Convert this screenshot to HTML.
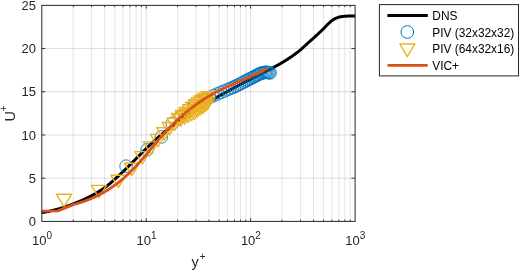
<!DOCTYPE html>
<html><head><meta charset="utf-8"><style>
html,body{margin:0;padding:0;background:#fff;width:520px;height:271px;overflow:hidden}
svg{display:block;will-change:transform}
.gM{stroke:#262626;stroke-opacity:0.15}
.gm{stroke:#262626;stroke-opacity:0.12}
</style></head><body>
<svg width="520" height="271" viewBox="0 0 520 271">
<rect width="520" height="271" fill="#fff"/>
<g stroke-width="1" fill="none"><line x1="73.23" y1="221.4" x2="73.23" y2="5.35" class="gm"/><line x1="91.61" y1="221.4" x2="91.61" y2="5.35" class="gm"/><line x1="104.66" y1="221.4" x2="104.66" y2="5.35" class="gm"/><line x1="114.77" y1="221.4" x2="114.77" y2="5.35" class="gm"/><line x1="123.04" y1="221.4" x2="123.04" y2="5.35" class="gm"/><line x1="130.03" y1="221.4" x2="130.03" y2="5.35" class="gm"/><line x1="136.08" y1="221.4" x2="136.08" y2="5.35" class="gm"/><line x1="141.42" y1="221.4" x2="141.42" y2="5.35" class="gm"/><line x1="146.20" y1="221.4" x2="146.20" y2="5.35" class="gM"/><line x1="177.63" y1="221.4" x2="177.63" y2="5.35" class="gm"/><line x1="196.01" y1="221.4" x2="196.01" y2="5.35" class="gm"/><line x1="209.06" y1="221.4" x2="209.06" y2="5.35" class="gm"/><line x1="219.17" y1="221.4" x2="219.17" y2="5.35" class="gm"/><line x1="227.44" y1="221.4" x2="227.44" y2="5.35" class="gm"/><line x1="234.43" y1="221.4" x2="234.43" y2="5.35" class="gm"/><line x1="240.48" y1="221.4" x2="240.48" y2="5.35" class="gm"/><line x1="245.82" y1="221.4" x2="245.82" y2="5.35" class="gm"/><line x1="250.60" y1="221.4" x2="250.60" y2="5.35" class="gM"/><line x1="282.03" y1="221.4" x2="282.03" y2="5.35" class="gm"/><line x1="300.41" y1="221.4" x2="300.41" y2="5.35" class="gm"/><line x1="313.46" y1="221.4" x2="313.46" y2="5.35" class="gm"/><line x1="323.57" y1="221.4" x2="323.57" y2="5.35" class="gm"/><line x1="331.84" y1="221.4" x2="331.84" y2="5.35" class="gm"/><line x1="338.83" y1="221.4" x2="338.83" y2="5.35" class="gm"/><line x1="344.88" y1="221.4" x2="344.88" y2="5.35" class="gm"/><line x1="350.22" y1="221.4" x2="350.22" y2="5.35" class="gm"/><line x1="41.8" y1="178.19" x2="355.1" y2="178.19" class="gM"/><line x1="41.8" y1="134.98" x2="355.1" y2="134.98" class="gM"/><line x1="41.8" y1="91.77" x2="355.1" y2="91.77" class="gM"/><line x1="41.8" y1="48.56" x2="355.1" y2="48.56" class="gM"/></g>
<g stroke="#262626" stroke-width="0.9"><line x1="73.23" y1="221.4" x2="73.23" y2="219.6"/><line x1="73.23" y1="5.35" x2="73.23" y2="7.1499999999999995"/><line x1="91.61" y1="221.4" x2="91.61" y2="219.6"/><line x1="91.61" y1="5.35" x2="91.61" y2="7.1499999999999995"/><line x1="104.66" y1="221.4" x2="104.66" y2="219.6"/><line x1="104.66" y1="5.35" x2="104.66" y2="7.1499999999999995"/><line x1="114.77" y1="221.4" x2="114.77" y2="219.6"/><line x1="114.77" y1="5.35" x2="114.77" y2="7.1499999999999995"/><line x1="123.04" y1="221.4" x2="123.04" y2="219.6"/><line x1="123.04" y1="5.35" x2="123.04" y2="7.1499999999999995"/><line x1="130.03" y1="221.4" x2="130.03" y2="219.6"/><line x1="130.03" y1="5.35" x2="130.03" y2="7.1499999999999995"/><line x1="136.08" y1="221.4" x2="136.08" y2="219.6"/><line x1="136.08" y1="5.35" x2="136.08" y2="7.1499999999999995"/><line x1="141.42" y1="221.4" x2="141.42" y2="219.6"/><line x1="141.42" y1="5.35" x2="141.42" y2="7.1499999999999995"/><line x1="146.20" y1="221.4" x2="146.20" y2="218.20000000000002"/><line x1="146.20" y1="5.35" x2="146.20" y2="8.55"/><line x1="177.63" y1="221.4" x2="177.63" y2="219.6"/><line x1="177.63" y1="5.35" x2="177.63" y2="7.1499999999999995"/><line x1="196.01" y1="221.4" x2="196.01" y2="219.6"/><line x1="196.01" y1="5.35" x2="196.01" y2="7.1499999999999995"/><line x1="209.06" y1="221.4" x2="209.06" y2="219.6"/><line x1="209.06" y1="5.35" x2="209.06" y2="7.1499999999999995"/><line x1="219.17" y1="221.4" x2="219.17" y2="219.6"/><line x1="219.17" y1="5.35" x2="219.17" y2="7.1499999999999995"/><line x1="227.44" y1="221.4" x2="227.44" y2="219.6"/><line x1="227.44" y1="5.35" x2="227.44" y2="7.1499999999999995"/><line x1="234.43" y1="221.4" x2="234.43" y2="219.6"/><line x1="234.43" y1="5.35" x2="234.43" y2="7.1499999999999995"/><line x1="240.48" y1="221.4" x2="240.48" y2="219.6"/><line x1="240.48" y1="5.35" x2="240.48" y2="7.1499999999999995"/><line x1="245.82" y1="221.4" x2="245.82" y2="219.6"/><line x1="245.82" y1="5.35" x2="245.82" y2="7.1499999999999995"/><line x1="250.60" y1="221.4" x2="250.60" y2="218.20000000000002"/><line x1="250.60" y1="5.35" x2="250.60" y2="8.55"/><line x1="282.03" y1="221.4" x2="282.03" y2="219.6"/><line x1="282.03" y1="5.35" x2="282.03" y2="7.1499999999999995"/><line x1="300.41" y1="221.4" x2="300.41" y2="219.6"/><line x1="300.41" y1="5.35" x2="300.41" y2="7.1499999999999995"/><line x1="313.46" y1="221.4" x2="313.46" y2="219.6"/><line x1="313.46" y1="5.35" x2="313.46" y2="7.1499999999999995"/><line x1="323.57" y1="221.4" x2="323.57" y2="219.6"/><line x1="323.57" y1="5.35" x2="323.57" y2="7.1499999999999995"/><line x1="331.84" y1="221.4" x2="331.84" y2="219.6"/><line x1="331.84" y1="5.35" x2="331.84" y2="7.1499999999999995"/><line x1="338.83" y1="221.4" x2="338.83" y2="219.6"/><line x1="338.83" y1="5.35" x2="338.83" y2="7.1499999999999995"/><line x1="344.88" y1="221.4" x2="344.88" y2="219.6"/><line x1="344.88" y1="5.35" x2="344.88" y2="7.1499999999999995"/><line x1="350.22" y1="221.4" x2="350.22" y2="219.6"/><line x1="350.22" y1="5.35" x2="350.22" y2="7.1499999999999995"/><line x1="41.8" y1="178.19" x2="45.4" y2="178.19"/><line x1="355.1" y1="178.19" x2="351.5" y2="178.19"/><line x1="41.8" y1="134.98" x2="45.4" y2="134.98"/><line x1="355.1" y1="134.98" x2="351.5" y2="134.98"/><line x1="41.8" y1="91.77" x2="45.4" y2="91.77"/><line x1="355.1" y1="91.77" x2="351.5" y2="91.77"/><line x1="41.8" y1="48.56" x2="45.4" y2="48.56"/><line x1="355.1" y1="48.56" x2="351.5" y2="48.56"/></g>
<path d="M41.80,212.76 L42.43,212.64 L43.06,212.52 L43.68,212.40 L44.31,212.27 L44.94,212.14 L45.57,212.01 L46.19,211.88 L46.82,211.75 L47.45,211.61 L48.08,211.48 L48.71,211.34 L49.33,211.20 L49.96,211.05 L50.59,210.91 L51.22,210.76 L51.85,210.62 L52.47,210.47 L53.10,210.31 L53.73,210.16 L54.36,210.00 L54.98,209.85 L55.61,209.68 L56.24,209.52 L56.87,209.35 L57.50,209.18 L58.12,209.01 L58.75,208.83 L59.38,208.65 L60.01,208.46 L60.64,208.27 L61.26,208.08 L61.89,207.89 L62.52,207.69 L63.15,207.50 L63.77,207.29 L64.40,207.09 L65.03,206.88 L65.66,206.67 L66.29,206.46 L66.91,206.24 L67.54,206.03 L68.17,205.81 L68.80,205.58 L69.43,205.36 L70.05,205.13 L70.68,204.90 L71.31,204.67 L71.94,204.44 L72.56,204.20 L73.19,203.96 L73.82,203.72 L74.45,203.48 L75.08,203.23 L75.70,202.98 L76.33,202.73 L76.96,202.48 L77.59,202.23 L78.22,201.98 L78.84,201.72 L79.47,201.46 L80.10,201.19 L80.73,200.92 L81.35,200.64 L81.98,200.37 L82.61,200.08 L83.24,199.80 L83.87,199.51 L84.49,199.21 L85.12,198.91 L85.75,198.61 L86.38,198.31 L87.01,198.00 L87.63,197.69 L88.26,197.37 L88.89,197.05 L89.52,196.73 L90.14,196.41 L90.77,196.08 L91.40,195.75 L92.03,195.41 L92.66,195.08 L93.28,194.74 L93.91,194.39 L94.54,194.05 L95.17,193.70 L95.80,193.34 L96.42,192.98 L97.05,192.62 L97.68,192.25 L98.31,191.88 L98.93,191.50 L99.56,191.12 L100.19,190.73 L100.82,190.33 L101.45,189.93 L102.07,189.52 L102.70,189.10 L103.33,188.68 L103.96,188.25 L104.59,187.81 L105.21,187.36 L105.84,186.90 L106.47,186.42 L107.10,185.93 L107.72,185.43 L108.35,184.92 L108.98,184.40 L109.61,183.87 L110.24,183.33 L110.86,182.78 L111.49,182.23 L112.12,181.67 L112.75,181.11 L113.38,180.55 L114.00,179.98 L114.63,179.41 L115.26,178.84 L115.89,178.27 L116.51,177.69 L117.14,177.12 L117.77,176.56 L118.40,175.99 L119.03,175.42 L119.65,174.84 L120.28,174.26 L120.91,173.68 L121.54,173.09 L122.17,172.49 L122.79,171.90 L123.42,171.30 L124.05,170.70 L124.68,170.09 L125.30,169.49 L125.93,168.88 L126.56,168.26 L127.19,167.65 L127.82,167.03 L128.44,166.40 L129.07,165.77 L129.70,165.14 L130.33,164.51 L130.96,163.88 L131.58,163.24 L132.21,162.61 L132.84,161.97 L133.47,161.34 L134.09,160.71 L134.72,160.07 L135.35,159.44 L135.98,158.80 L136.61,158.16 L137.23,157.52 L137.86,156.89 L138.49,156.25 L139.12,155.61 L139.75,154.97 L140.37,154.34 L141.00,153.71 L141.63,153.08 L142.26,152.46 L142.88,151.83 L143.51,151.21 L144.14,150.59 L144.77,149.97 L145.40,149.35 L146.02,148.73 L146.65,148.12 L147.28,147.51 L147.91,146.90 L148.54,146.29 L149.16,145.69 L149.79,145.10 L150.42,144.50 L151.05,143.91 L151.67,143.33 L152.30,142.74 L152.93,142.16 L153.56,141.58 L154.19,141.01 L154.81,140.43 L155.44,139.86 L156.07,139.30 L156.70,138.74 L157.33,138.18 L157.95,137.63 L158.58,137.08 L159.21,136.53 L159.84,135.99 L160.46,135.45 L161.09,134.91 L161.72,134.38 L162.35,133.85 L162.98,133.32 L163.60,132.80 L164.23,132.28 L164.86,131.76 L165.49,131.25 L166.12,130.74 L166.74,130.23 L167.37,129.73 L168.00,129.23 L168.63,128.73 L169.25,128.24 L169.88,127.75 L170.51,127.26 L171.14,126.77 L171.77,126.29 L172.39,125.81 L173.02,125.34 L173.65,124.86 L174.28,124.39 L174.91,123.92 L175.53,123.46 L176.16,123.00 L176.79,122.54 L177.42,122.08 L178.04,121.63 L178.67,121.18 L179.30,120.73 L179.93,120.28 L180.56,119.84 L181.18,119.40 L181.81,118.96 L182.44,118.52 L183.07,118.08 L183.70,117.65 L184.32,117.22 L184.95,116.79 L185.58,116.37 L186.21,115.94 L186.83,115.52 L187.46,115.10 L188.09,114.68 L188.72,114.27 L189.35,113.85 L189.97,113.44 L190.60,113.03 L191.23,112.62 L191.86,112.22 L192.49,111.81 L193.11,111.41 L193.74,111.01 L194.37,110.61 L195.00,110.21 L195.62,109.82 L196.25,109.42 L196.88,109.03 L197.51,108.64 L198.14,108.25 L198.76,107.86 L199.39,107.47 L200.02,107.09 L200.65,106.71 L201.28,106.32 L201.90,105.94 L202.53,105.56 L203.16,105.19 L203.79,104.81 L204.41,104.43 L205.04,104.06 L205.67,103.69 L206.30,103.32 L206.93,102.94 L207.55,102.58 L208.18,102.21 L208.81,101.84 L209.44,101.48 L210.07,101.11 L210.69,100.75 L211.32,100.39 L211.95,100.02 L212.58,99.66 L213.20,99.31 L213.83,98.95 L214.46,98.59 L215.09,98.23 L215.72,97.88 L216.34,97.52 L216.97,97.17 L217.60,96.82 L218.23,96.47 L218.86,96.12 L219.48,95.77 L220.11,95.42 L220.74,95.07 L221.37,94.73 L221.99,94.38 L222.62,94.03 L223.25,93.69 L223.88,93.35 L224.51,93.00 L225.13,92.66 L225.76,92.32 L226.39,91.98 L227.02,91.64 L227.65,91.30 L228.27,90.96 L228.90,90.62 L229.53,90.29 L230.16,89.95 L230.78,89.62 L231.41,89.28 L232.04,88.95 L232.67,88.61 L233.30,88.28 L233.92,87.95 L234.55,87.62 L235.18,87.28 L235.81,86.95 L236.44,86.62 L237.06,86.29 L237.69,85.97 L238.32,85.64 L238.95,85.31 L239.57,84.98 L240.20,84.66 L240.83,84.33 L241.46,84.00 L242.09,83.68 L242.71,83.35 L243.34,83.03 L243.97,82.71 L244.60,82.38 L245.23,82.06 L245.85,81.74 L246.48,81.42 L247.11,81.10 L247.74,80.77 L248.36,80.45 L248.99,80.13 L249.62,79.81 L250.25,79.50 L250.88,79.18 L251.50,78.86 L252.13,78.54 L252.76,78.22 L253.39,77.91 L254.02,77.59 L254.64,77.27 L255.27,76.96 L255.90,76.65 L256.53,76.33 L257.15,76.02 L257.78,75.71 L258.41,75.40 L259.04,75.09 L259.67,74.77 L260.29,74.46 L260.92,74.14 L261.55,73.82 L262.18,73.50 L262.81,73.18 L263.43,72.85 L264.06,72.53 L264.69,72.20 L265.32,71.87 L265.94,71.54 L266.57,71.22 L267.20,70.89 L267.83,70.55 L268.46,70.22 L269.08,69.89 L269.71,69.55 L270.34,69.21 L270.97,68.88 L271.60,68.54 L272.22,68.20 L272.85,67.85 L273.48,67.51 L274.11,67.16 L274.73,66.81 L275.36,66.47 L275.99,66.12 L276.62,65.77 L277.25,65.42 L277.87,65.06 L278.50,64.71 L279.13,64.35 L279.76,63.99 L280.39,63.63 L281.01,63.27 L281.64,62.90 L282.27,62.53 L282.90,62.16 L283.52,61.78 L284.15,61.40 L284.78,61.01 L285.41,60.62 L286.04,60.23 L286.66,59.83 L287.29,59.43 L287.92,59.03 L288.55,58.62 L289.18,58.20 L289.80,57.78 L290.43,57.36 L291.06,56.93 L291.69,56.49 L292.31,56.05 L292.94,55.60 L293.57,55.15 L294.20,54.70 L294.83,54.24 L295.45,53.77 L296.08,53.30 L296.71,52.82 L297.34,52.33 L297.97,51.84 L298.59,51.34 L299.22,50.84 L299.85,50.32 L300.48,49.80 L301.10,49.26 L301.73,48.71 L302.36,48.15 L302.99,47.57 L303.62,46.99 L304.24,46.41 L304.87,45.83 L305.50,45.24 L306.13,44.66 L306.76,44.08 L307.38,43.52 L308.01,42.95 L308.64,42.39 L309.27,41.84 L309.89,41.28 L310.52,40.72 L311.15,40.17 L311.78,39.61 L312.41,39.05 L313.03,38.49 L313.66,37.93 L314.29,37.36 L314.92,36.79 L315.55,36.22 L316.17,35.65 L316.80,35.07 L317.43,34.49 L318.06,33.91 L318.68,33.33 L319.31,32.75 L319.94,32.16 L320.57,31.56 L321.20,30.97 L321.82,30.37 L322.45,29.76 L323.08,29.13 L323.71,28.49 L324.34,27.84 L324.96,27.18 L325.59,26.53 L326.22,25.87 L326.85,25.23 L327.47,24.60 L328.10,23.98 L328.73,23.39 L329.36,22.82 L329.99,22.28 L330.61,21.73 L331.24,21.20 L331.87,20.68 L332.50,20.19 L333.13,19.74 L333.75,19.34 L334.38,18.99 L335.01,18.67 L335.64,18.37 L336.26,18.10 L336.89,17.85 L337.52,17.63 L338.15,17.42 L338.78,17.22 L339.40,17.05 L340.03,16.89 L340.66,16.77 L341.29,16.66 L341.92,16.57 L342.54,16.48 L343.17,16.41 L343.80,16.34 L344.43,16.29 L345.05,16.24 L345.68,16.20 L346.31,16.17 L346.94,16.14 L347.57,16.11 L348.19,16.10 L348.82,16.08 L349.45,16.07 L350.08,16.05 L350.71,16.04 L351.33,16.03 L351.96,16.02 L352.59,16.02 L353.22,16.01 L353.84,16.00 L354.47,16.00 L355.10,16.00" stroke="#000" stroke-width="3" fill="none" stroke-linejoin="round"/>
<g stroke="#0072BD" stroke-width="0.85" fill="none"><circle cx="126.11" cy="166.13" r="6.3"/><circle cx="147.10" cy="149.93" r="6.3"/><circle cx="161.39" cy="136.88" r="6.3"/><circle cx="172.24" cy="123.44" r="6.3"/><circle cx="180.99" cy="115.94" r="6.3"/><circle cx="188.32" cy="110.17" r="6.3"/><circle cx="194.63" cy="105.76" r="6.3"/><circle cx="200.17" cy="101.92" r="6.3"/><circle cx="205.10" cy="99.58" r="6.3"/><circle cx="209.55" cy="97.46" r="6.3"/><circle cx="213.60" cy="95.60" r="6.3"/><circle cx="217.32" cy="93.97" r="6.3"/><circle cx="220.76" cy="92.47" r="6.3"/><circle cx="223.95" cy="91.12" r="6.3"/><circle cx="226.94" cy="89.87" r="6.3"/><circle cx="229.74" cy="88.70" r="6.3"/><circle cx="232.37" cy="87.60" r="6.3"/><circle cx="234.87" cy="86.56" r="6.3"/><circle cx="237.23" cy="85.36" r="6.3"/><circle cx="239.47" cy="84.21" r="6.3"/><circle cx="241.61" cy="83.12" r="6.3"/><circle cx="243.66" cy="82.07" r="6.3"/><circle cx="245.61" cy="81.07" r="6.3"/><circle cx="247.48" cy="80.11" r="6.3"/><circle cx="249.28" cy="79.19" r="6.3"/><circle cx="251.02" cy="78.31" r="6.3"/><circle cx="252.68" cy="77.45" r="6.3"/><circle cx="254.29" cy="76.63" r="6.3"/><circle cx="255.84" cy="75.84" r="6.3"/><circle cx="257.35" cy="75.07" r="6.3"/><circle cx="258.80" cy="74.33" r="6.3"/><circle cx="260.21" cy="73.61" r="6.3"/><circle cx="261.57" cy="73.09" r="6.3"/><circle cx="262.90" cy="72.82" r="6.3"/><circle cx="264.19" cy="72.56" r="6.3"/><circle cx="265.44" cy="72.31" r="6.3"/><circle cx="266.66" cy="72.31" r="6.3"/><circle cx="267.85" cy="72.50" r="6.3"/><circle cx="269.00" cy="72.68" r="6.3"/><circle cx="270.13" cy="72.86" r="6.3"/></g>
<g stroke="#EDB120" stroke-width="1.4" fill="none" stroke-linejoin="round"><path d="M56.51,194.30 L71.51,194.30 L64.01,206.70 Z"/><path d="M91.40,185.40 L106.40,185.40 L98.90,197.80 Z"/><path d="M110.88,175.21 L125.88,175.21 L118.38,187.61 Z"/><path d="M124.46,163.23 L139.46,163.23 L131.96,175.63 Z"/><path d="M134.90,151.60 L149.90,151.60 L142.40,164.00 Z"/><path d="M143.38,141.92 L158.38,141.92 L150.88,154.32 Z"/><path d="M150.52,134.35 L165.52,134.35 L158.02,146.75 Z"/><path d="M156.69,127.81 L171.69,127.81 L164.19,140.21 Z"/><path d="M162.11,122.49 L177.11,122.49 L169.61,134.89 Z"/><path d="M166.96,118.13 L181.96,118.13 L174.46,130.53 Z"/><path d="M171.34,113.56 L186.34,113.56 L178.84,125.96 Z"/><path d="M173.38,113.68 L188.38,113.68 L180.88,126.08 Z"/><path d="M175.33,110.35 L190.33,110.35 L182.83,122.75 Z"/><path d="M177.20,111.77 L192.20,111.77 L184.70,124.17 Z"/><path d="M179.00,107.42 L194.00,107.42 L186.50,119.82 Z"/><path d="M180.73,110.00 L195.73,110.00 L188.23,122.40 Z"/><path d="M182.40,104.70 L197.40,104.70 L189.90,117.10 Z"/><path d="M184.00,108.37 L199.00,108.37 L191.50,120.77 Z"/><path d="M185.55,102.18 L200.55,102.18 L193.05,114.58 Z"/><path d="M187.05,106.84 L202.05,106.84 L194.55,119.24 Z"/><path d="M188.51,99.81 L203.51,99.81 L196.01,112.21 Z"/><path d="M189.91,104.69 L204.91,104.69 L197.41,117.09 Z"/><path d="M191.28,97.60 L206.28,97.60 L198.78,110.00 Z"/><path d="M192.60,102.69 L207.60,102.69 L200.10,115.09 Z"/><path d="M193.89,95.93 L208.89,95.93 L201.39,108.33 Z"/><path d="M195.14,101.20 L210.14,101.20 L202.64,113.60 Z"/><path d="M196.36,94.48 L211.36,94.48 L203.86,106.88 Z"/><path d="M197.55,99.38 L212.55,99.38 L205.05,111.78 Z"/><path d="M198.70,93.11 L213.70,93.11 L206.20,105.51 Z"/><path d="M199.83,97.58 L214.83,97.58 L207.33,109.98 Z"/><path d="M200.93,91.80 L215.93,91.80 L208.43,104.20 Z"/></g>
<path d="M41.9,211.1 L57.7,210.9 L74.00,204.35 L74.97,204.10 L75.94,203.84 L76.91,203.58 L77.88,203.30 L78.85,203.02 L79.83,202.72 L80.80,202.42 L81.77,202.11 L82.74,201.79 L83.71,201.46 L84.68,201.12 L85.65,200.78 L86.62,200.42 L87.59,200.05 L88.56,199.67 L89.53,199.29 L90.50,198.89 L91.48,198.48 L92.45,198.07 L93.42,197.64 L94.39,197.20 L95.36,196.75 L96.33,196.29 L97.30,195.81 L98.27,195.33 L99.24,194.83 L100.21,194.33 L101.18,193.81 L102.15,193.28 L103.13,192.74 L104.10,192.18 L105.07,191.61 L106.04,191.03 L107.01,190.44 L107.98,189.84 L108.95,189.22 L109.92,188.59 L110.89,187.94 L111.86,187.28 L112.83,186.61 L113.81,185.93 L114.78,185.23 L115.75,184.51 L116.72,183.79 L117.69,183.04 L118.66,182.29 L119.63,181.52 L120.60,180.73 L121.57,179.93 L122.54,179.12 L123.51,178.28 L124.48,177.44 L125.46,176.58 L126.43,175.70 L127.40,174.81 L128.37,173.90 L129.34,172.98 L130.31,172.03 L131.28,171.08 L132.25,170.10 L133.22,169.11 L134.19,168.11 L135.16,167.08 L136.13,166.04 L137.11,164.99 L138.08,163.91 L139.05,162.83 L140.02,161.73 L140.99,160.62 L141.96,159.50 L142.93,158.37 L143.90,157.24 L144.87,156.09 L145.84,154.94 L146.81,153.78 L147.78,152.62 L148.76,151.46 L149.73,150.29 L150.70,149.12 L151.67,147.96 L152.64,146.79 L153.61,145.63 L154.58,144.47 L155.55,143.31 L156.52,142.16 L157.49,141.01 L158.46,139.88 L159.44,138.75 L160.41,137.63 L161.38,136.52 L162.35,135.42 L163.32,134.34 L164.29,133.26 L165.26,132.20 L166.23,131.16 L167.20,130.12 L168.17,129.10 L169.14,128.09 L170.11,127.09 L171.09,126.10 L172.06,125.12 L173.03,124.16 L174.00,123.21 L174.97,122.27 L175.94,121.34 L176.91,120.42 L177.88,119.51 L178.85,118.62 L179.82,117.74 L180.79,116.86 L181.76,116.00 L182.74,115.15 L183.71,114.31 L184.68,113.49 L185.65,112.67 L186.62,111.86 L187.59,111.07 L188.56,110.28 L189.53,109.51 L190.50,108.74 L191.47,107.99 L192.44,107.25 L193.42,106.51 L194.39,105.79 L195.36,105.08 L196.33,104.37 L197.30,103.68 L198.27,103.00 L199.24,102.33 L200.21,101.66 L201.18,101.01 L202.15,100.37 L203.12,99.73 L204.09,99.11 L205.07,98.49 L206.04,97.89 L207.01,97.29 L207.98,96.70 L208.95,96.13 L209.92,95.56 L210.89,95.00 L211.86,94.45 L212.83,93.90 L213.80,93.37 L214.77,92.85 L215.74,92.33 L216.72,91.82 L217.69,91.32 L218.66,90.82 L219.63,90.33 L220.60,89.85 L221.57,89.38 L222.54,88.91 L223.51,88.44 L224.48,87.98 L225.45,87.53 L226.42,87.08 L227.39,86.64 L228.37,86.20 L229.34,85.76 L230.31,85.33 L231.28,84.90 L232.25,84.47 L233.22,84.04 L234.19,83.62 L235.16,83.20 L236.13,82.78 L237.10,82.37 L238.07,81.95 L239.05,81.54 L240.02,81.12 L240.99,80.71 L241.96,80.29 L242.93,79.88 L243.90,79.46 L244.87,79.05 L245.84,78.63 L246.81,78.21 L247.78,77.79 L248.75,77.37 L249.72,76.94 L250.70,76.51 L251.67,76.08 L252.64,75.65 L253.61,75.21 L254.58,74.77 L255.55,74.32 L256.52,73.87 L257.49,73.41 L258.46,72.95 L259.43,72.48 L260.40,72.01 L261.37,71.53 L262.35,71.05 L263.32,70.56 L264.29,70.06 L265.26,69.55 L266.23,69.04 L267.20,68.52" stroke="#D95319" stroke-width="2.8" fill="none" stroke-linejoin="round"/>
<rect x="41.8" y="5.35" width="313.30" height="216.05" fill="none" stroke="#262626" stroke-width="1"/>
<g font-family="Liberation Sans, sans-serif" font-size="13px" fill="#262626"><text x="36" y="226.10" text-anchor="end">0</text><text x="36" y="182.89" text-anchor="end">5</text><text x="36" y="139.68" text-anchor="end">10</text><text x="36" y="96.47" text-anchor="end">15</text><text x="36" y="53.26" text-anchor="end">20</text><text x="36" y="10.05" text-anchor="end">25</text><text x="42.10" y="244.5" text-anchor="middle">10<tspan dy="-6.0" font-size="10px">0</tspan></text><text x="146.50" y="244.5" text-anchor="middle">10<tspan dy="-6.0" font-size="10px">1</tspan></text><text x="250.90" y="244.5" text-anchor="middle">10<tspan dy="-6.0" font-size="10px">2</tspan></text><text x="355.30" y="244.5" text-anchor="middle">10<tspan dy="-6.0" font-size="10px">3</tspan></text></g>
<text x="191.5" y="266.5" font-family="Liberation Sans, sans-serif" font-size="14.3px" fill="#262626">y<tspan dx="1" dy="-6.8" font-size="10px">+</tspan></text>
<text transform="translate(14.8,121.6) rotate(-90)" font-family="Liberation Sans, sans-serif" font-size="14.3px" fill="#262626">U<tspan dy="-7.4" font-size="10px">+</tspan></text>
<rect x="379.4" y="4.6" width="139.1" height="71.3" fill="#fff" stroke="#262626" stroke-width="1"/>
<line x1="387.4" y1="15.45" x2="427.8" y2="15.45" stroke="#000" stroke-width="3"/>
<circle cx="407.3" cy="32.0" r="6.3" stroke="#0072BD" stroke-width="1.0" fill="none"/>
<path d="M399.80,44.00 L414.80,44.00 L407.30,56.70 Z" stroke="#EDB120" stroke-width="1.4" fill="none" stroke-linejoin="round"/>
<line x1="387.5" y1="65.4" x2="427.7" y2="65.4" stroke="#D95319" stroke-width="2.9"/>
<g font-family="Liberation Sans, sans-serif" font-size="11.9px" fill="#000">
<text x="432.3" y="19.7">DNS</text>
<text x="432.3" y="36.6">PIV (32x32x32)</text>
<text x="432.3" y="53.4">PIV (64x32x16)</text>
<text x="432.3" y="70.2">VIC+</text>
</g>
</svg>
</body></html>
